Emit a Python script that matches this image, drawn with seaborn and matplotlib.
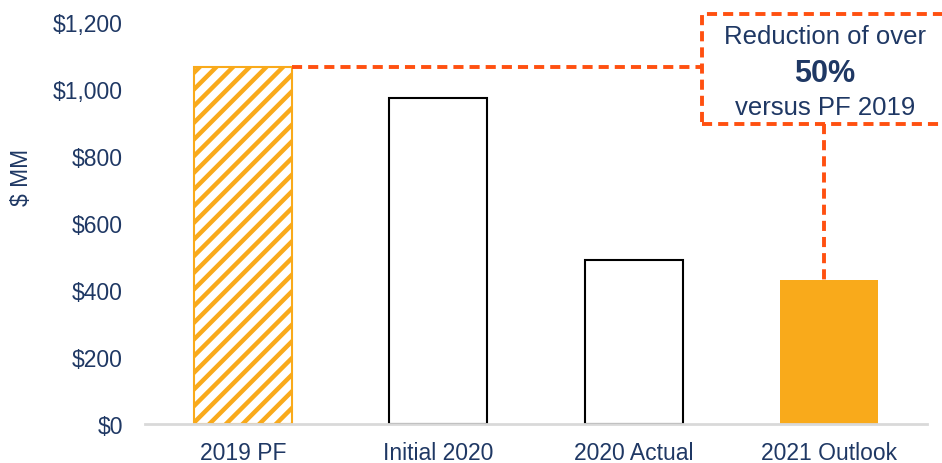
import matplotlib
matplotlib.use("Agg")
import matplotlib.pyplot as plt
import seaborn as sns
import pandas as pd
from matplotlib.patches import Rectangle

# ---- data ----
categories = ["2019 PF", "Initial 2020", "2020 Actual", "2021 Outlook"]
values = [1066, 974, 489, 430]
yticks = [0, 200, 400, 600, 800, 1000, 1200]
ytick_labels = ["$0", "$200", "$400", "$600", "$800", "$1,000", "$1,200"]
ylabel = "$ MM"
box_lines = ["Reduction of over", "50%", "versus PF 2019"]

NAVY = "#1F3864"
ORANGE = "#F9AA1B"
RED = "#FF5010"
GRID = "#D9D9D9"

sns.set_theme(style="white")
plt.rcParams["font.family"] = ["Liberation Sans", "DejaVu Sans"]
plt.rcParams["hatch.linewidth"] = 3.2

fig = plt.figure(figsize=(9.42, 4.64), dpi=100)
ax = fig.add_axes([145 / 942, 1 - 425 / 464, (927 - 145) / 942, (425 - 23) / 464])

df = pd.DataFrame({"cat": categories, "val": values})
sns.barplot(data=df, x="cat", y="val", ax=ax, width=0.5, color="white")

patches = ax.patches
# 2019 PF: hatched orange
p = patches[0]
p.set_facecolor("white")
p.set_edgecolor(ORANGE)
p.set_hatch("//")
p.set_linewidth(1.5)
# Initial / Actual: outlined
for p in patches[1:3]:
    p.set_facecolor("white")
    p.set_edgecolor("black")
    p.set_linewidth(1.5)
# Outlook: solid
p = patches[3]
p.set_facecolor(ORANGE)
p.set_edgecolor(ORANGE)
p.set_linewidth(0)

ax.set_xlim(-0.5, 3.5)
ax.set_ylim(0, 1200)
ax.set_yticks(yticks)
ax.set_yticklabels(ytick_labels)
ax.set_xlabel("")
ax.set_ylabel("")
ax.tick_params(axis="y", length=0, pad=16, labelsize=16.5, labelcolor=NAVY)
ax.tick_params(axis="x", length=0, pad=12, labelsize=16.5, labelcolor=NAVY)
for s in ["top", "right", "left"]:
    ax.spines[s].set_visible(False)
ax.spines["bottom"].set_color(GRID)
ax.spines["bottom"].set_linewidth(2)
ax.grid(False)

fig.text(22 / 942, 1 - 177 / 464, ylabel, rotation=90, ha="center", va="center",
         fontsize=16.5, color=NAVY)

# ---- annotation ----
dash = (2.6, 1.55)
lw = 2.8
box_x0, box_x1 = 2.35, 3.75
box_y0, box_y1 = 895, 1224
bar_right = 0 + 0.25
ax.plot([bar_right, box_x0], [values[0], values[0]], color=RED, lw=lw,
        dashes=dash, clip_on=False, zorder=5)
ax.plot([2.975, 2.975], [box_y0, values[3]], color=RED, lw=lw,
        dashes=dash, clip_on=False, zorder=5)
rect = Rectangle((box_x0, box_y0), box_x1 - box_x0, box_y1 - box_y0,
                 fill=False, edgecolor=RED, lw=lw, linestyle=(0, dash),
                 clip_on=False, zorder=5)
ax.add_patch(rect)

fig.text(825 / 942, 1 - 37 / 464, box_lines[0], ha="center", va="center",
         fontsize=18.5, color=NAVY)
fig.text(825 / 942, 1 - 74 / 464, box_lines[1], ha="center", va="center",
         fontsize=22, color=NAVY, fontweight="bold")
fig.text(825 / 942, 1 - 108 / 464, box_lines[2], ha="center", va="center",
         fontsize=18.5, color=NAVY)

fig.savefig("out.png", dpi=100)
